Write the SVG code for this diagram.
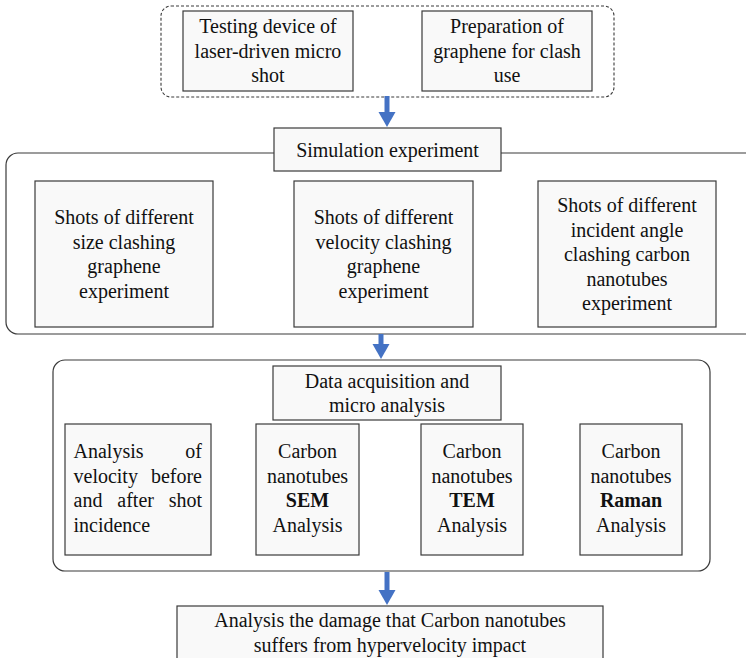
<svg xmlns="http://www.w3.org/2000/svg" width="746" height="658" viewBox="0 0 746 658">
<defs>
<marker id="ah" markerUnits="userSpaceOnUse" markerWidth="15" markerHeight="18" viewBox="0 -9 15 18" refX="0" refY="0" orient="auto">
<path d="M0,-8.5 L15,0 L0,8.5 Z" fill="#4472C4"/>
</marker>
</defs>
<style>
.box{fill:#f9f9f9;stroke:#3a3a3a;stroke-width:1.2}
.frame{fill:#ffffff;stroke:#3a3a3a;stroke-width:1.2}
.dash{fill:#ffffff;stroke:#3a3a3a;stroke-width:1.1;stroke-dasharray:3,2}
.t{font-family:"Liberation Serif","Times New Roman",serif;font-size:20px;fill:#111;text-anchor:middle}
.l{text-anchor:start}
.r{text-anchor:end}
.b{font-weight:bold}
.arr{stroke:#4472C4;stroke-width:5;fill:none}
</style>
<rect width="746" height="658" fill="#ffffff"/>

<g id="prep-group">
<rect class="dash" x="161" y="6" width="453" height="91" rx="10"/>
</g>
<g id="testing-device">
<rect class="box" x="183" y="11" width="170" height="80"/>
<text class="t" x="268" y="33">Testing device of</text>
<text class="t" x="268" y="57.5">laser-driven micro</text>
<text class="t" x="268" y="82">shot</text>
</g>
<g id="graphene-prep">
<rect class="box" x="422" y="11" width="170" height="80"/>
<text class="t" x="507" y="33">Preparation of</text>
<text class="t" x="507" y="57.5">graphene for clash</text>
<text class="t" x="507" y="82">use</text>
</g>

<g id="simulation-frame">
<rect class="frame" x="6" y="153" width="780" height="181" rx="12"/>
</g>
<g id="simulation-experiment">
<rect class="box" x="274" y="128" width="227" height="43"/>
<text class="t" x="387.5" y="157">Simulation experiment</text>
</g>
<g id="size-shots">
<rect class="box" x="35" y="181" width="178" height="146"/>
<text class="t" x="124" y="224">Shots of different</text>
<text class="t" x="124" y="248.5">size clashing</text>
<text class="t" x="124" y="273">graphene</text>
<text class="t" x="124" y="297.5">experiment</text>
</g>
<g id="velocity-shots">
<rect class="box" x="294" y="181" width="179" height="146"/>
<text class="t" x="383.5" y="224">Shots of different</text>
<text class="t" x="383.5" y="248.5">velocity clashing</text>
<text class="t" x="383.5" y="273">graphene</text>
<text class="t" x="383.5" y="297.5">experiment</text>
</g>
<g id="angle-shots">
<rect class="box" x="538" y="181" width="178" height="146"/>
<text class="t" x="627" y="212">Shots of different</text>
<text class="t" x="627" y="236.5">incident angle</text>
<text class="t" x="627" y="261">clashing carbon</text>
<text class="t" x="627" y="285.5">nanotubes</text>
<text class="t" x="627" y="310">experiment</text>
</g>

<g id="analysis-frame">
<rect class="frame" x="53" y="360" width="657" height="211" rx="12"/>
</g>
<g id="data-acquisition">
<rect class="box" x="273" y="366" width="228" height="54"/>
<text class="t" x="387" y="388">Data acquisition and</text>
<text class="t" x="387" y="412">micro analysis</text>
</g>
<g id="velocity-analysis">
<rect class="box" x="65" y="424" width="146" height="131"/>
<text class="t l" x="73.5" y="458">Analysis</text>
<text class="t r" x="202" y="458">of</text>
<text class="t l" x="73.5" y="482.5">velocity</text>
<text class="t r" x="202" y="482.5">before</text>
<text class="t l" x="73.5" y="507">and</text>
<text class="t l" x="117.3" y="507">after</text>
<text class="t r" x="202" y="507">shot</text>
<text class="t l" x="73.5" y="531.5">incidence</text>
</g>
<g id="sem-analysis">
<rect class="box" x="256" y="424" width="103" height="131"/>
<text class="t" x="307.5" y="458">Carbon</text>
<text class="t" x="307.5" y="482.5">nanotubes</text>
<text class="t b" x="307.5" y="507">SEM</text>
<text class="t" x="307.5" y="531.5">Analysis</text>
</g>
<g id="tem-analysis">
<rect class="box" x="421" y="424" width="102" height="131"/>
<text class="t" x="472" y="458">Carbon</text>
<text class="t" x="472" y="482.5">nanotubes</text>
<text class="t b" x="472" y="507">TEM</text>
<text class="t" x="472" y="531.5">Analysis</text>
</g>
<g id="raman-analysis">
<rect class="box" x="580" y="424" width="102" height="131"/>
<text class="t" x="631" y="458">Carbon</text>
<text class="t" x="631" y="482.5">nanotubes</text>
<text class="t b" x="631" y="507">Raman</text>
<text class="t" x="631" y="531.5">Analysis</text>
</g>

<g id="damage-analysis">
<rect class="box" x="177" y="606" width="426" height="70"/>
<text class="t" x="390" y="627">Analysis the damage that Carbon nanotubes</text>
<text class="t" x="390" y="652">suffers from hypervelocity impact</text>
</g>

<g id="connectors">
<line class="arr" x1="387" y1="96" x2="387" y2="112" marker-end="url(#ah)"/>
<line class="arr" x1="381" y1="334" x2="381" y2="344" marker-end="url(#ah)"/>
<line class="arr" x1="387" y1="572" x2="387" y2="590" marker-end="url(#ah)"/>
</g>
</svg>
